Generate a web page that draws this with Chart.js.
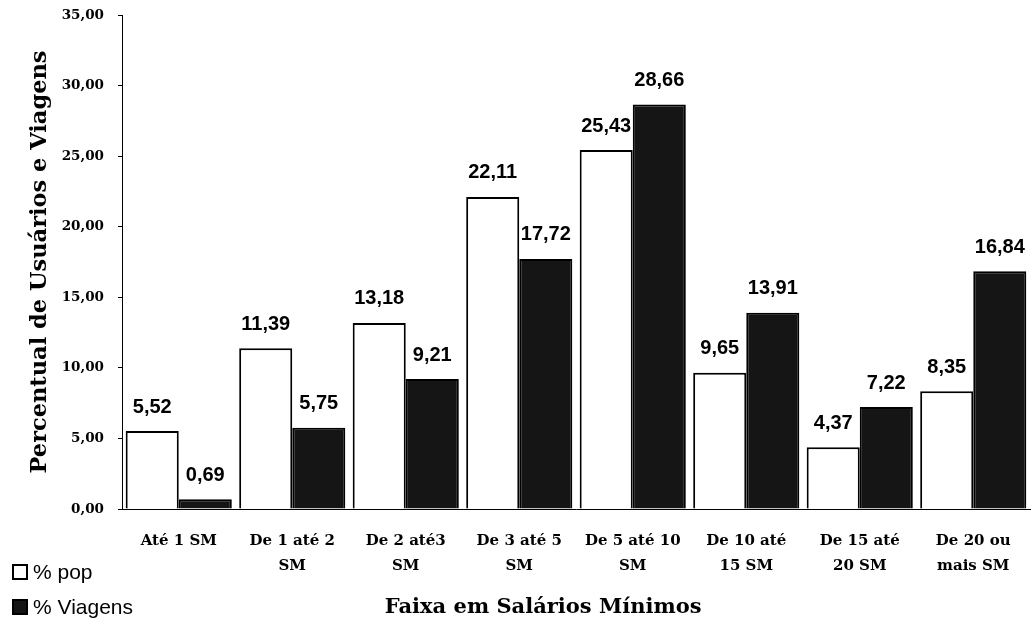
<!DOCTYPE html>
<html>
<head>
<meta charset="utf-8">
<script src="https://cdn.jsdelivr.net/npm/chart.js@4"></script>
<style>
html,body{margin:0;padding:0;background:#fff;}
#wrap{width:1033px;height:628px;position:relative;}
</style>
</head>
<body>
<div id="wrap"><canvas id="c" width="1033" height="628"></canvas></div>
<script>
const categories = [
  "Até 1 SM",
  ["De 1 até 2", "SM"],
  ["De 2 até3", "SM"],
  ["De 3 até 5", "SM"],
  ["De 5 até 10", "SM"],
  ["De 10 até", "15 SM"],
  ["De 15 até", "20 SM"],
  ["De 20 ou", "mais SM"]
];
const popValues = [5.52, 11.39, 13.18, 22.11, 25.43, 9.65, 4.37, 8.35];
const viagensValues = [0.69, 5.75, 9.21, 17.72, 28.66, 13.91, 7.22, 16.84];
const seriesLabels = ["% pop", "% Viagens"];
const yTitle = "Percentual de Usuários e Viagens";
const xTitle = "Faixa em Salários Mínimos";

const fmt = v => v.toFixed(2).replace('.', ',');

const valueLabels = {
  id: 'valueLabels',
  afterDatasetsDraw(chart) {
    const ctx = chart.ctx;
    ctx.save();
    ctx.font = 'bold 20px "Liberation Sans", Arial, sans-serif';
    ctx.fillStyle = '#000';
    ctx.textAlign = 'center';
    ctx.textBaseline = 'middle';
    chart.data.datasets.forEach((ds, di) => {
      const meta = chart.getDatasetMeta(di);
      meta.data.forEach((el, i) => {
        ctx.fillText(fmt(ds.data[i]), el.x, el.y - 24);
      });
    });
    ctx.restore();
  }
};

const sideLegend = {
  id: 'sideLegend',
  afterDraw(chart) {
    const ctx = chart.ctx;
    ctx.save();
    const rows = [572, 607];
    chart.data.datasets.forEach((ds, i) => {
      const y = rows[i];
      ctx.fillStyle = ds.backgroundColor;
      ctx.fillRect(13, y - 7, 14, 14);
      ctx.strokeStyle = '#000';
      ctx.lineWidth = 2;
      ctx.strokeRect(13, y - 7, 14, 14);
      ctx.fillStyle = '#000';
      ctx.font = '21px "Liberation Sans", Arial, sans-serif';
      ctx.textAlign = 'left';
      ctx.textBaseline = 'middle';
      ctx.fillText(ds.label, 33, y + 1);
    });
    ctx.restore();
  }
};

new Chart(document.getElementById('c'), {
  type: 'bar',
  data: {
    labels: categories,
    datasets: [
      {
        label: seriesLabels[0],
        data: popValues,
        backgroundColor: '#ffffff',
        borderColor: '#000000',
        borderWidth: 2,
        barPercentage: 1.0,
        categoryPercentage: 0.935
      },
      {
        label: seriesLabels[1],
        data: viagensValues,
        backgroundColor: '#151515',
        borderColor: '#000000',
        borderWidth: 2,
        barPercentage: 1.0,
        categoryPercentage: 0.935
      }
    ]
  },
  options: {
    responsive: false,
    animation: false,
    layout: { padding: { top: 15, right: 3, left: 0, bottom: 0 } },
    plugins: {
      legend: { display: false },
      tooltip: { enabled: false }
    },
    scales: {
      x: {
        grid: { display: false },
        border: { display: true, color: '#000', width: 1 },
        ticks: {
          color: '#000',
          padding: 12,
          maxRotation: 0,
          autoSkip: false,
          font: { family: '"DejaVu Serif", serif', weight: 'bold', size: 15, lineHeight: 1.67 }
        },
        title: {
          display: true,
          text: xTitle + '\u00A0'.repeat(9),
          color: '#000',
          padding: { top: 4, bottom: 8 },
          font: { family: '"DejaVu Serif", serif', weight: 'bold', size: 21 }
        },
        afterFit(s) { s.height = 119; s.paddingLeft = 0; s.paddingRight = 0; }
      },
      y: {
        min: 0,
        max: 35,
        ticks: {
          stepSize: 5,
          color: '#000',
          padding: 14,
          callback: v => fmt(v),
          font: { family: '"DejaVu Serif", serif', weight: 'bold', size: 13.5 }
        },
        grid: { drawOnChartArea: false, drawTicks: true, tickLength: 4, color: '#000' },
        border: { display: true, color: '#000', width: 1 },
        title: {
          display: true,
          text: yTitle,
          color: '#000',
          padding: { top: 27, bottom: 4 },
          font: { family: '"DejaVu Serif", serif', weight: 'bold', size: 22.5 }
        },
        afterFit(s) { s.width = 122; s.paddingTop = 0; s.paddingBottom = 0; }
      }
    }
  },
  plugins: [valueLabels, sideLegend]
});
</script>
</body>
</html>
